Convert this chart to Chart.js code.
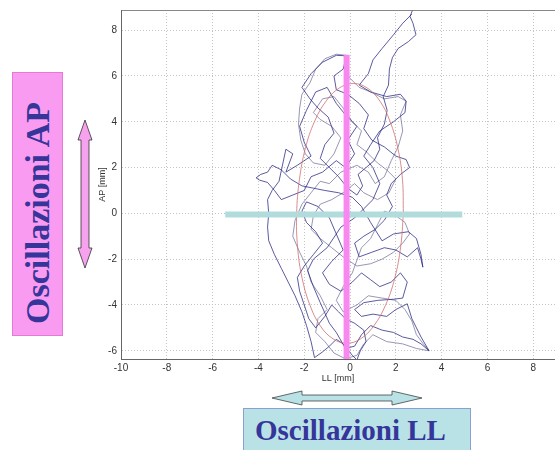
<!DOCTYPE html>
<html>
<head>
<meta charset="utf-8">
<script src="https://cdn.jsdelivr.net/npm/chart.js@4.4.0/dist/chart.umd.min.js"></script>
<style>
  body { margin: 0; background: #fff; }
  #wrap { position: relative; width: 555px; height: 450px; overflow: hidden; }
  #chartBox { position: absolute; left: 0; top: 0; width: 555px; height: 450px; }
  .box { position: absolute; font-family: "Liberation Serif", serif; font-weight: bold; color: #35359a; }
  #boxAP { left: 12px; top: 72px; width: 49px; height: 262px; background: #f99cf1; border: 1px solid #e47ad8;
           display: flex; align-items: center; justify-content: center; }
  #boxAP span { display: block; transform: translateY(9px) rotate(-90deg); white-space: nowrap; font-size: 34px; }
  #boxLL { left: 243px; top: 408px; width: 226px; height: 60px; background: #b9e2e7; border: 1px solid #8aa0d4;
           font-size: 29px; }
  #boxLL span { position: absolute; left: 11px; top: 5px; white-space: nowrap; }
  #arrows { position: absolute; left: 0; top: 0; pointer-events: none; }
</style>
</head>
<body>
<div id="wrap">
  <div id="chartBox"><canvas id="stabChart"></canvas></div>
  <div class="box" id="boxAP"><span>Oscillazioni AP</span></div>
  <div class="box" id="boxLL"><span>Oscillazioni LL</span></div>
  <svg id="arrows" width="555" height="450">
    <polygon points="85,120 92,140 89,140 89,248 92,248 85,268 78,248 81,248 81,140 78,140"
             fill="#f7a2ef" stroke="#333" stroke-width="0.8"/>
    <polygon points="272,398 302,391 302,395 392,395 392,391 422,398 392,405 392,401 302,401 302,405"
             fill="#b9e2e7" stroke="#444" stroke-width="0.8"/>
  </svg>
</div>
<script>
// sway path of the centre of pressure (mm) - dark strokes
const pathX = [2.72,2.62,2.75,2.88,2.55,2.1,1.85,1.72,1.68,1.45,1.62,1.5,1.2,1.3,1.05,0.7,0.35,0.55,0.3,-0.1,
  -0.5,-0.9,-1.3,-1.1,-0.7,-0.95,-1.4,-1.75,-2.1,-1.7,-1.2,-0.6,-0.15,
  -0.3,-0.7,-0.6,-0.1,0.4,0.8,0.6,0.95,1.5,2.0,2.45,2.6,2.2,1.8,1.6,1.85,1.5,1.1,0.6,0.2,0.4,0.95,1.5,2.0,2.5,2.95,
  3.1,3.18,3.1,2.9,2.55,1.9,1.4,0.9,0.5,0.1,
  -0.5,-1.1,-1.6,-2.1,-2.6,-3.0,-3.4,-3.6,-3.9,-4.1,-3.95,-3.6,-3.3,-3.0,-2.5,-2.0,-1.7,-1.2,-0.6,-0.2,0.2,-0.1,0.3,
  -0.2,-0.6,-1.0,-1.5,-1.9,-2.2,-2.0,-1.7,-2.3,-2.8,-2.5,-2.8,
  -3.1,-3.4,-3.6,-3.55,-3.6,-3.55,-3.3,-3.0,-2.7,-2.4,-2.1,-1.9,-1.7,-1.55,-1.2,-0.9,-0.6,-0.3,0.1,0.3,0.45,0.7,0.6,
  0.2,-0.2,-0.5,-0.8,-1.1,-1.5,-1.8,-2.0,-2.2,-2.3,-2.0,-1.6,-1.2,-1.5,-1.9,-2.1,-1.9,-1.4,-0.9,-0.6,-0.3,-0.8,-1.2,
  -0.9,-0.4,0.1,0.5,0.9,1.3,1.8,2.2,2.5,2.3,1.9,1.2,0.6,0.2,0.5,1.0,1.6,2.0,2.5,2.7,2.9,3.1,3.45,3.1,2.75,2.3,1.9,
  1.4,0.9,0.5,0.2,-0.2,-0.6,-0.9,-1.3,-1.6,-1.85,-1.6,
  -1.0,-0.4,0.2,0.6,1.0,1.3,1.0,0.6,0.9,1.3,1.9,2.4,2.45,2.2,1.6,0.9,0.4,0.8,1.0,1.4,1.9,2.3,2.7];
const pathY = [8.85,8.6,8.3,7.8,7.5,7.2,6.8,6.3,5.6,5.1,4.5,3.9,3.3,2.8,2.3,2.0,1.7,1.2,0.8,1.1,
  1.6,2.0,2.4,3.0,3.5,4.2,4.6,5.0,5.5,6.1,6.6,6.9,6.88,
  6.3,6.0,5.4,5.2,4.8,4.3,3.7,3.2,2.9,2.5,2.35,2.0,1.7,1.3,0.8,0.3,-0.3,-0.7,-1.0,-1.3,-1.9,-1.7,-1.5,-1.6,-1.9,-1.5,
  -2.0,-2.35,-1.8,-1.1,-0.8,-0.9,-1.2,-0.4,0.3,0.7,
  0.9,1.0,1.1,1.2,1.5,1.9,2.1,1.8,1.7,1.55,1.45,1.35,1.0,0.6,0.8,1.0,1.6,1.8,2.3,2.0,2.6,3.2,3.8,
  4.3,4.8,5.5,5.3,4.5,3.8,3.1,2.5,2.1,1.8,2.6,2.8,
  1.4,1.0,0.6,0.0,-0.6,-1.2,-1.8,-2.4,-3.0,-3.6,-4.3,-4.9,-5.6,-6.3,-6.05,-5.8,-5.5,-5.7,-6.2,-6.4,-6.0,-5.6,-5.1,
  -4.8,-4.6,-4.3,-4.0,-4.5,-5.0,-4.6,-4.0,-3.4,-2.8,-2.3,-1.8,-1.3,-0.8,-0.4,0.1,0.5,0.3,-0.2,-0.9,-1.6,-2.1,-2.6,
  -3.1,-3.4,-3.0,-2.6,-2.9,-3.2,-3.0,-2.6,-3.0,-3.7,-3.75,-3.8,-3.9,-4.2,-4.5,-4.4,-4.5,-4.2,-3.95,-4.6,-5.0,-5.4,-6.0,-5.7,-5.5,-5.4,-5.2,
  -5.1,-4.9,-5.3,-5.8,-5.9,-5.2,-4.8,-3.9,-3.2,-2.5,-2.0,
  -1.5,-0.6,-0.2,0.2,0.6,1.3,2.0,2.5,3.0,3.6,4.0,4.4,4.9,5.2,5.1,5.3,5.6,6.1,6.7,7.2,7.8,8.3,8.7];

// lighter strokes of the same path
const path2X = [-0.15,-0.6,-1.1,-1.5,-1.75,-2.1,-2.2,-2.25,-2.15,-1.95,-1.6,-1.1,-0.7,-0.4,-0.8,-1.3,-1.6,-1.2,-0.7,-0.3,
  0.1,0.5,0.3,0.7,1.2,1.6,2.0,1.7,1.2,0.6,0.2,-0.3,-0.8,-1.3,-1.6,-1.7,-1.3,-0.8,-0.3,0.3,0.9,1.4,1.9,2.3,2.6,2.4,
  2.0,1.5,1.2,0.9,0.5,0.1,-0.3,-0.6,-0.3,0.3,0.8,1.4,2.0,2.4,2.7,2.9,3.2,3.45,2.9,2.3,1.6,1.0,0.6,0.3,-0.2,-0.7,
  -1.1,-1.5,-1.4,-1.0,-1.3,-1.7,-1.9,-2.2,-2.5,-2.4,-2.1,-1.7,-1.3,-0.9,-0.4,0.3,0.8,1.1,1.5,1.8,2.1,2.3,2.2,2.45,
  2.1,1.5,0.9,0.4,0.0,-0.3];
const path2Y = [6.9,6.95,6.75,6.3,5.7,5.2,4.6,3.9,3.2,2.6,2.2,2.1,2.6,3.3,3.8,4.1,4.4,5.0,5.1,4.6,
  4.0,3.6,3.0,2.7,2.2,1.9,1.5,0.9,0.6,0.9,1.3,0.9,0.6,0.4,-0.1,-0.7,-1.1,-1.5,-1.9,-2.3,-2.2,-2.0,-1.7,-1.3,-0.9,-0.4,
  -0.1,0.1,-0.5,-1.1,-1.5,-2.6,-3.2,-3.8,-4.3,-4.0,-3.6,-3.7,-3.8,-4.2,-4.7,-5.3,-5.7,-6.0,-5.9,-5.7,-5.6,-5.3,-5.7,-6.2,-6.35,-6.1,
  -5.6,-5.2,-4.6,-4.2,-3.6,-3.0,-2.3,-1.7,-1.0,-0.3,0.4,0.9,1.4,1.3,1.8,2.1,1.8,1.3,1.6,2.3,2.9,3.6,4.3,4.9,
  5.1,5.0,5.3,5.5,5.9,6.4];

// 95% confidence ellipse, read at regular steps round its outline
const ellipseX = [2.33,2.29,2.09,1.75,1.30,0.74,0.15,-0.46,-1.04,-1.55,-1.95,-2.21,-2.33,-2.29,-2.09,-1.75,-1.30,-0.74,-0.15,0.46,1.04,1.55,1.95,2.21,2.33];
const ellipseY = [0,1.47,2.84,4.01,4.91,5.48,5.67,5.48,4.91,4.01,2.84,1.47,0,-1.47,-2.84,-4.01,-4.91,-5.48,-5.67,-5.48,-4.91,-4.01,-2.84,-1.47,0];

// the two highlight bars (AP and LL extent)
const apBarX = [-0.15, -0.15];
const apBarY = [6.93, -6.4];
const llBarX = [-5.45, 4.9];
const llBarY = [-0.05, -0.05];

const xRange = [-10, 8.95];
const yRange = [-6.36, 8.88];
const xTicks = [-10, -8, -6, -4, -2, 0, 2, 4, 6, 8];
const yTicks = [-6, -4, -2, 0, 2, 4, 6, 8];

function toPoints(xs, ys) {
  return xs.map((x, i) => ({ x: x, y: ys[i] }));
}

document.addEventListener("DOMContentLoaded", function(){
  const ctx = document.getElementById('stabChart').getContext('2d');
  const tickFont = { family: 'Liberation Sans', size: 10 };
  const titleFont = { family: 'Liberation Sans', size: 9 };
  new Chart(ctx, {
    type: 'scatter',
    data: {
      datasets: [
        { label: 'AP', data: toPoints(apBarX, apBarY), showLine: true, borderColor: '#f987f0',
          borderWidth: 6, borderCapStyle: 'butt', pointRadius: 0, order: 0, clip: 0 },
        { label: 'LL', data: toPoints(llBarX, llBarY), showLine: true, borderColor: '#b2dcdc',
          borderWidth: 6, borderCapStyle: 'butt', pointRadius: 0, order: 1, clip: 0 },
        { label: 'ellisse', data: toPoints(ellipseX, ellipseY), showLine: true, borderColor: '#d07070',
          borderWidth: 0.8, tension: 0.4, pointRadius: 0, order: 2 },
        { label: 'COP', data: toPoints(pathX, pathY), showLine: true, borderColor: 'rgba(40,40,130,0.85)',
          borderWidth: 0.9, pointRadius: 0, order: 3 },
        { label: 'COP2', data: toPoints(path2X, path2Y), showLine: true, borderColor: 'rgba(110,110,150,0.8)',
          borderWidth: 0.9, pointRadius: 0, order: 4 }
      ]
    },
    options: {
      responsive: true,
      maintainAspectRatio: false,
      animation: false,
      layout: { padding: { left: 95, top: 8, right: 0, bottom: 62 } },
      plugins: { legend: { display: false }, tooltip: { enabled: false } },
      scales: {
        x: {
          type: 'linear', min: xRange[0], max: xRange[1],
          ticks: { padding: 3, color: '#333', font: tickFont },
          afterBuildTicks: function(scale){ scale.ticks = xTicks.map(v => ({ value: v })); },
          afterFit: function(scale){ scale.height = 29; },
          grid: { color: '#c4c4c4', drawTicks: false },
          border: { color: '#666', dash: [1, 2] },
          title: { display: true, text: 'LL [mm]', color: '#333', padding: { top: 0, bottom: 4 }, font: titleFont }
        },
        x2: {
          type: 'linear', position: 'top', min: xRange[0], max: xRange[1],
          ticks: { display: false },
          grid: { display: false },
          border: { display: true, color: '#888' },
          afterFit: function(scale){ scale.height = 0; }
        },
        y: {
          type: 'linear', min: yRange[0], max: yRange[1],
          ticks: { padding: 4, color: '#333', font: tickFont },
          afterBuildTicks: function(scale){ scale.ticks = yTicks.map(v => ({ value: v })); },
          afterFit: function(scale){ scale.width = 26; },
          grid: { color: '#c4c4c4', drawTicks: false },
          border: { color: '#666', dash: [1, 2] },
          title: { display: true, text: 'AP [mm]', color: '#333', padding: { top: 2, bottom: 0 }, font: titleFont }
        }
      }
    }
  });
});
</script>
</body>
</html>
